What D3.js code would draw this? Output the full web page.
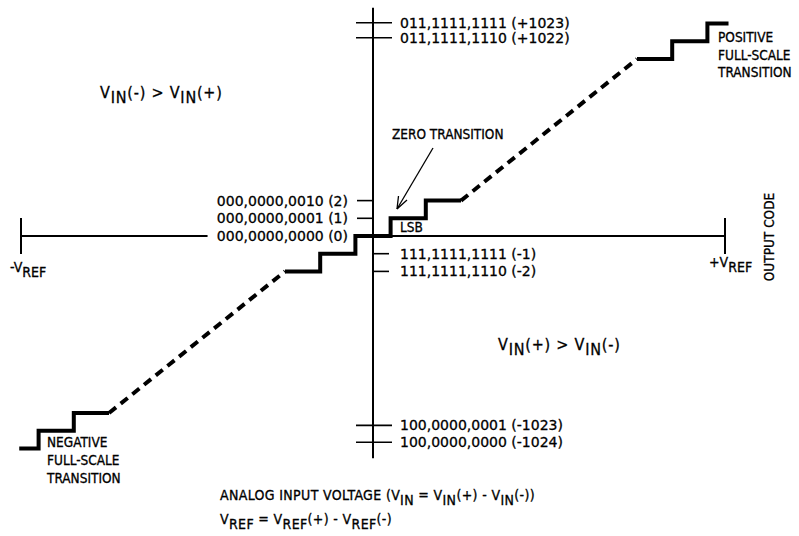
<!DOCTYPE html>
<html>
<head>
<meta charset="utf-8">
<script src="https://cdn.jsdelivr.net/npm/d3@7"></script>
<style>
  body { margin: 0; background: #fff; }
  svg text { font-family: "DejaVu Sans Condensed", "DejaVu Sans", sans-serif; font-stretch: condensed;
             fill: #000; stroke: #000; stroke-width: 0.3; }
  svg text.code { font-family: "DejaVu Sans", sans-serif; font-stretch: normal; font-size: 14px; }
</style>
</head>
<body>
<svg id="transfer" width="799" height="536"></svg>
<script>
"use strict";

// schematic units: x in LSB steps, y in output code steps (not to scale)
const xDomain = [-10, 10];
const yDomain = [-13, 13];

const stairNeg = [[-10.05, -12], [-9.5, -12], [-9.5, -11], [-8.5, -11], [-8.5, -10], [-7.5, -10]];
const dashNeg = [[-7.5, -10], [-2.5, -2]];
const stairMid = [[-2.5, -2], [-1.5, -2], [-1.5, -1], [-0.5, -1], [-0.5, 0], [0.5, 0],
                  [0.5, 1], [1.5, 1], [1.5, 2], [2.5, 2]];
const dashPos = [[2.5, 2], [7.5, 10]];
const stairPos = [[7.5, 10], [8.5, 10], [8.5, 11], [9.5, 11], [9.5, 12], [10.1, 12]];

// code ticks crossing the axis (top and bottom)
const crossCodes = [12.05, 11.2, -10.7, -11.65];
const crossLabels = ["011,1111,1111 (+1023)", "011,1111,1110 (+1022)",
                     "100,0000,0001 (-1023)", "100,0000,0000 (-1024)"];
// code ticks left of the axis
const leftCodes = [2, 1, 0];
const leftLabels = ["000,0000,0010 (2)", "000,0000,0001 (1)", "000,0000,0000 (0)"];
// code ticks right of the axis
const rightCodes = [-1, -2];
const rightLabels = ["111,1111,1111 (-1)", "111,1111,1110 (-2)"];

const svg = d3.select("svg#transfer");

const xScale = d3.scaleLinear().domain(xDomain).range([21, 725]);
const yScale = d3.scaleLinear().domain(yDomain).range([466.1, 5.9]);

const x0 = xScale(0), y0 = yScale(0);

// axes (horizontal one broken where the (0) label sits on it)
[[-10, -4.7], [-0.45, 10]].forEach(function(seg) {
    svg.append("line")
        .attr("x1", xScale(seg[0])).attr("x2", xScale(seg[1]))
        .attr("y1", y0).attr("y2", y0)
        .style("stroke", "black").style("stroke-width", 2);
});
svg.append("line")
    .attr("x1", x0).attr("x2", x0)
    .attr("y1", yScale(12.9)).attr("y2", yScale(-12.55))
    .style("stroke", "black").style("stroke-width", 2);
[-10, 10].forEach(function(v) {
    svg.append("line")
        .attr("x1", xScale(v)).attr("x2", xScale(v))
        .attr("y1", y0 - 18).attr("y2", y0 + 18)
        .style("stroke", "black").style("stroke-width", 2);
});

// ticks + labels
svg.selectAll("line.cross")
    .data(crossCodes)
    .join("line")
    .attr("class", "cross")
    .attr("x1", x0 - 17).attr("x2", x0 + 19)
    .attr("y1", d => yScale(d)).attr("y2", d => yScale(d))
    .style("stroke", "black").style("stroke-width", 1.6);
svg.selectAll("text.cross")
    .data(crossCodes)
    .join("text")
    .attr("class", "cross code")
    .attr("x", x0 + 27)
    .attr("y", d => yScale(d) + 5)
    .text((d, i) => crossLabels[i]);

svg.selectAll("line.left")
    .data(leftCodes)
    .join("line")
    .attr("class", "left")
    .attr("x1", x0 - 16).attr("x2", x0)
    .attr("y1", d => yScale(d)).attr("y2", d => yScale(d))
    .style("stroke", "black").style("stroke-width", 1.6);
svg.selectAll("text.left")
    .data(leftCodes)
    .join("text")
    .attr("class", "left code")
    .attr("x", x0 - 25)
    .attr("y", d => yScale(d) + 5)
    .attr("text-anchor", "end")
    .text((d, i) => leftLabels[i]);

svg.selectAll("line.right")
    .data(rightCodes)
    .join("line")
    .attr("class", "right")
    .attr("x1", x0).attr("x2", x0 + 16)
    .attr("y1", d => yScale(d)).attr("y2", d => yScale(d))
    .style("stroke", "black").style("stroke-width", 1.6);
svg.selectAll("text.right")
    .data(rightCodes)
    .join("text")
    .attr("class", "right code")
    .attr("x", x0 + 27)
    .attr("y", d => yScale(d) + 5)
    .text((d, i) => rightLabels[i]);

// staircase
const line = d3.line().x(d => xScale(d[0])).y(d => yScale(d[1]));
[stairNeg, stairMid, stairPos].forEach(function(pts) {
    svg.append("path")
        .attr("d", line(pts))
        .style("fill", "none").style("stroke", "black")
        .style("stroke-width", 4).style("stroke-linejoin", "miter");
});
[dashNeg, dashPos].forEach(function(pts) {
    svg.append("path")
        .attr("d", line(pts))
        .style("fill", "none").style("stroke", "black")
        .style("stroke-width", 4).style("stroke-dasharray", "9,6");
});

// text with subscripts: parts = [[text, isSub], ...]
function richText(x, y, size, parts, anchor, spacing) {
    const t = svg.append("text")
        .attr("x", x).attr("y", y)
        .style("font-size", size + "px")
        .style("letter-spacing", (spacing || 0) + "px")
        .attr("text-anchor", anchor || "start");
    let down = false;
    parts.forEach(function(p) {
        const sub = p[1];
        let dy = 0;
        if (sub && !down) { dy = size * 0.33; down = true; }
        else if (!sub && down) { dy = -size * 0.33; down = false; }
        t.append("tspan").attr("dy", dy).text(p[0]);
    });
    return t;
}

richText(100, 98, 16, [["V", 0], ["IN", 1], ["(-)  >  V", 0], ["IN", 1], ["(+)", 0]], "start", 0.8);
richText(498, 350, 16, [["V", 0], ["IN", 1], ["(+)  >  V", 0], ["IN", 1], ["(-)", 0]], "start", 0.8);

richText(10, 272, 14, [["-V", 0], ["REF", 1]]);
richText(709, 267, 14, [["+V", 0], ["REF", 1]]);

svg.append("text")
    .attr("transform", "translate(774,237) rotate(-90)")
    .attr("text-anchor", "middle")
    .style("font-size", "13.5px")
    .text("OUTPUT CODE");

svg.append("text").attr("x", 392).attr("y", 139).style("font-size", "13.5px").text("ZERO TRANSITION");
svg.append("text").attr("x", 400).attr("y", 232).style("font-size", "13.5px").text("LSB");

// arrow to the zero transition
svg.append("line")
    .attr("x1", 433).attr("y1", 148).attr("x2", 397).attr("y2", 209)
    .style("stroke", "black").style("stroke-width", 1.3);
svg.append("path")
    .attr("d", "M397,209 L398.5,196 M397,209 L407,200")
    .style("fill", "none").style("stroke", "black").style("stroke-width", 1.3);

["POSITIVE", "FULL-SCALE", "TRANSITION"].forEach(function(s, i) {
    svg.append("text").attr("x", 718).attr("y", 42 + i * 17.5).style("font-size", "13.5px").text(s);
});
["NEGATIVE", "FULL-SCALE", "TRANSITION"].forEach(function(s, i) {
    svg.append("text").attr("x", 47).attr("y", 447 + i * 18).style("font-size", "13.5px").text(s);
});

richText(220, 500, 14, [["ANALOG INPUT VOLTAGE (V", 0], ["IN", 1], [" = V", 0], ["IN", 1],
                          ["(+) - V", 0], ["IN", 1], ["(-))", 0]], "start", 0.35);
richText(220, 524, 14, [["V", 0], ["REF", 1], [" = V", 0], ["REF", 1], ["(+) - V", 0], ["REF", 1], ["(-)", 0]],
         "start", 0.35);
</script>
</body>
</html>
